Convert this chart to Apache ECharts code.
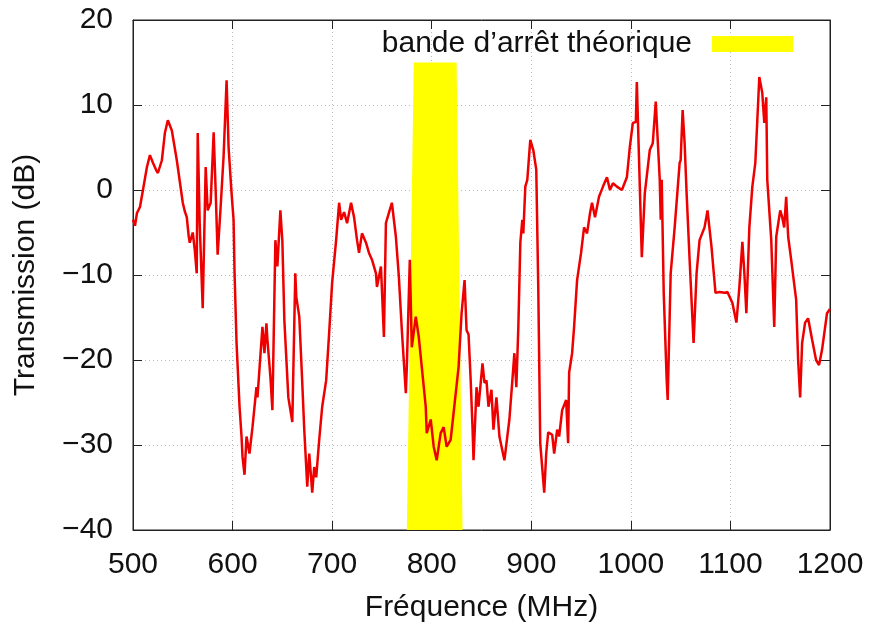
<!DOCTYPE html>
<html>
<head>
<meta charset="utf-8">
<script src="https://cdn.jsdelivr.net/npm/echarts@6/dist/echarts.min.js"></script>
<style>html,body{margin:0;padding:0;background:#fff}#c{width:870px;height:622px}</style>
</head>
<body>
<div id="c"></div>
<script>
const freq = [500,502,504,507,510,514,517,520,523,525,529,532,535,539,544,550,552,554,556,557,560,562,564,565,567,570,573,575,578,581,583,585,588,591,594,596,599,601,602,604,607,609,610,612,614,617,620,624,625,630,632,634,635,638,640,643,645,648,650,652,656,660,663,664,667,670,672,674,675,677,680,682,684,687,690,694,697,700,704,707,709,712,715,719,722,725,727,730,734,737,740,744,745,749,752,754,757,760,764,767,770,774,775,778,780,784,787,790,794,795,799,802,805,809,812,815,819,822,827,830,833,835,837,839,841,842,845,847,851,853,855,857,860,862,865,868,873,878,881,883,885,887,889,891,892,894,896,899,902,905,907,909,911,913,915,917,921,923,926,928,931,935,937,938,941,943,946,950,953,956,959,961,964,968,972,976,979,982,986,991,996,999,1002,1005,1006,1011,1014,1019,1022,1025,1029,1030,1031,1033,1036,1037,1040,1044,1049,1050,1052,1054,1056,1059,1063,1066,1069,1074,1077,1081,1085,1089,1094,1097,1099,1102,1106,1109,1112,1114,1116,1119,1122,1125,1127,1129,1132,1134,1136,1137,1141,1144,1146,1150,1152,1154,1156,1158,1161,1162,1166,1168,1170,1172,1175,1178,1182,1186,1189,1192,1197,1200];
const trans = [-3.5,-4.2,-2.7,-2,0,2.7,4.1,3.2,2.4,2,3.5,6.7,8.2,7,3.5,-1.5,-2.5,-3.2,-5.5,-6.2,-5,-7,-9.8,6.7,-4,-13.9,2.7,-2.4,-1.5,6.8,0,-7.6,-2,4,12.9,5,-0.4,-3.5,-9.8,-18,-25.5,-29,-31.4,-33.5,-29,-31,-27.9,-23.2,-24.4,-16.1,-19.2,-15.7,-17.6,-22,-25.9,-5.9,-9,-2.4,-6,-15.3,-24.4,-27.3,-9.8,-12.6,-14.9,-22.7,-28.2,-32.6,-34.9,-31,-35.6,-32.6,-33.8,-29.4,-25.5,-22.4,-16.8,-10.9,-5.9,-1.5,-3.5,-2.6,-3.9,-1.5,-3.2,-5.9,-7.4,-5.1,-6.2,-7.4,-8.2,-9.8,-11.4,-9,-17.3,-3.9,-2.7,-1.5,-5.5,-10.2,-16.5,-23.9,-20.8,-8.2,-18.5,-14.9,-17.3,-20.8,-25.5,-28.6,-27,-30.2,-31.8,-28.6,-27.9,-30.2,-29.4,-26.2,-20.8,-14.5,-10.6,-16.5,-17,-22,-28,-31.8,-23.2,-25.5,-20.4,-22.7,-22.4,-25.5,-23.5,-28.2,-24.4,-29,-31.8,-27,-22.4,-19.2,-23.2,-16.1,-6.2,-3.5,-5.1,0.4,1.2,5.9,4.7,2.4,-11.4,-29.8,-29.8,-35.6,-31,-28.5,-28.8,-31,-28.2,-29,-25.9,-24.7,-29.8,-21.5,-19.2,-16.1,-10.6,-7.4,-4.4,-5.1,-2.7,-1.5,-3.2,-0.8,0.4,1.5,0,0.8,0.4,0,1.5,5.1,7.9,8,12.7,-7.9,-0.4,4.7,5.5,10.4,1.2,-3.5,1.2,-12.1,-22.4,-24.7,-9.8,-4.4,3.2,3.5,9.4,5.5,-0.4,-8.2,-18,-9.8,-5.9,-4.4,-2.4,-6.7,-12.1,-12,-12.1,-12,-12.1,-13.3,-15.6,-11.4,-6.1,-9.8,-14.5,-4.4,0.4,3.2,8.2,13.3,11.4,7.9,10.9,1.2,-5.9,-16.1,-5.5,-2.4,-3.2,-4.4,-0.8,-5.5,-8.2,-8.2,-12.9,-20,-24.4,-18,-15.6,-15.1,-17.6,-20,-20.6,-18.8,-14.5,-14];
const bandFreq = [775, 782, 825, 831];
const bandLevel = [-40, 15, 15, -40];
const bandName = "bande d\u2019arrêt théorique";
const xTicks = {min: 500, max: 1200, step: 100};
const yTicks = {min: -40, max: 20, step: 10};

const curve = freq.map((f, i) => [f, trans[i]]);
const band = bandFreq.map((f, i) => [f, bandLevel[i]]);
const fmt = v => String(v).replace('-', '\u2212');
const font = 'Liberation Sans, Arial, Helvetica, sans-serif';
const FS = 30;

const chart = echarts.init(document.getElementById('c'));
const baseAxis = {
  axisLine: {show: true, onZero: false, lineStyle: {color: '#222', width: 1}},
  axisTick: {show: true, inside: true, length: 9, lineStyle: {color: '#222'}},
};
chart.setOption({
  animation: false,
  backgroundColor: '#fff',
  textStyle: {fontFamily: font},
  grid: {left: 133, right: 40, top: 20, bottom: 92, show: true, borderColor: '#222', borderWidth: 1,
         containLabel: false, outerBoundsMode: 'none'},
  legend: {
    data: [{name: bandName, icon: 'rect'}],
    align: 'right', right: 72, top: 24,
    itemWidth: 81, itemHeight: 16,
    textStyle: {fontSize: FS, color: '#111', fontFamily: font, padding: [0, 15, 0, 0]},
    selectedMode: false
  },
  xAxis: [
    Object.assign({}, baseAxis, {
      type: 'value', min: xTicks.min, max: xTicks.max, interval: xTicks.step,
      name: 'Fréquence (MHz)', nameLocation: 'middle', nameGap: 63,
      nameTextStyle: {fontSize: FS, color: '#111'},
      axisLabel: {fontSize: FS, color: '#111', margin: 20, formatter: fmt},
      splitLine: {show: true, lineStyle: {color: '#bbb', type: [1, 3], width: 1}}
    }),
    Object.assign({}, baseAxis, {
      type: 'value', position: 'top', min: xTicks.min, max: xTicks.max, interval: xTicks.step,
      axisLabel: {show: false}, splitLine: {show: false}
    })
  ],
  yAxis: [
    Object.assign({}, baseAxis, {
      type: 'value', min: yTicks.min, max: yTicks.max, interval: yTicks.step,
      name: 'Transmission (dB)', nameLocation: 'middle', nameGap: 92,
      nameTextStyle: {fontSize: FS, color: '#111'},
      axisLabel: {fontSize: FS, color: '#111', margin: 20, formatter: fmt},
      splitLine: {show: true, lineStyle: {color: '#bbb', type: [1, 3], width: 1}}
    }),
    Object.assign({}, baseAxis, {
      type: 'value', position: 'right', min: yTicks.min, max: yTicks.max, interval: yTicks.step,
      axisLabel: {show: false}, splitLine: {show: false}
    })
  ],
  series: [
    {
      name: bandName, type: 'line', data: band, symbol: 'none', z: 1,
      color: '#ffff00',
      lineStyle: {width: 0, color: '#ffff00'},
      areaStyle: {color: '#ffff00', opacity: 1, origin: 'start'}
    },
    {
      name: 'transmission', type: 'line', data: curve, symbol: 'none', z: 3,
      color: '#ee0000',
      lineStyle: {width: 2.5, color: '#ee0000'}
    }
  ]
});
</script>
</body>
</html>
